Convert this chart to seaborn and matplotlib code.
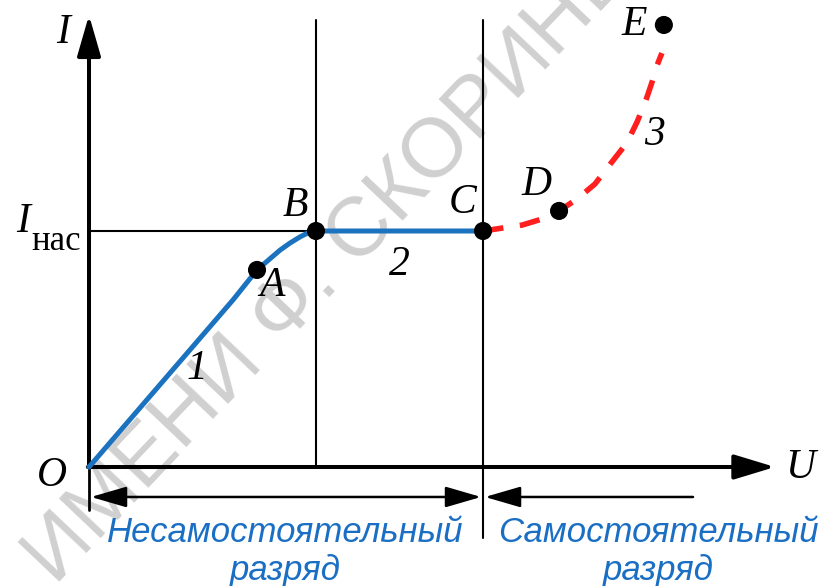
import matplotlib
matplotlib.use("Agg")
import matplotlib.pyplot as plt
import seaborn as sns

# Non-self-sustained discharge: O -> A -> B -> C (current saturates at I_sat)
u_blue = [0.0, 3.655, 4.264, 4.848, 5.102, 5.355, 5.558, 5.761, 10.0]
i_blue = [0.0, 0.708, 0.835, 0.919, 0.949, 0.975, 0.992, 1.0, 1.0]

# Self-sustained discharge: C -> D -> E
u_red = [10.0, 10.51, 10.99, 11.50, 11.93, 12.39, 12.84, 13.25, 13.65,
         13.91, 14.11, 14.29, 14.42, 14.54]
i_red = [1.0, 1.013, 1.025, 1.051, 1.085, 1.136, 1.199, 1.288, 1.373,
         1.462, 1.542, 1.631, 1.703, 1.754]

# Marked points on the characteristic
point_names = ["A", "B", "C", "D", "E"]
point_u = [4.264, 5.761, 10.0, 11.93, 14.59]
point_i = [0.835, 1.0, 1.0, 1.085, 1.873]

i_sat = 1.0
u_b = 5.761
u_c = 10.0

segment_names = ["1", "2", "3"]
region_names = ["Несамостоятельный\nразряд", "Самостоятельный\nразряд"]

BLUE = "#1b72bf"
RED = "#ff1f1f"
TEXT_BLUE = "#1a6fc4"

sns.set_theme(style="white")
plt.rcParams["font.family"] = ["Liberation Serif", "DejaVu Serif"]

fig = plt.figure(figsize=(8.23, 5.86), dpi=100)
ax = fig.add_axes([0, 0, 1, 1])
ax.set_xlim(-2.259, 18.629)
ax.set_ylim(-0.5042, 1.9788)
ax.set_axis_off()

# watermark
ax.text(6.25, 0.88, "ИМЕНИ Ф. СКОРИНЫ", rotation=46.5, rotation_mode="anchor",
        ha="center", va="center", fontsize=60, color="#d0d0d0",
        family="Liberation Sans", zorder=0)

# axes with arrows
ax.annotate("", xy=(0, 1.915), xytext=(0, 0),
            arrowprops=dict(arrowstyle="-|>,head_length=1.25,head_width=0.36",
                            mutation_scale=20, lw=2.9, color="black",
                            shrinkA=0, shrinkB=0), zorder=2)
ax.annotate("", xy=(17.41, 0), xytext=(-0.03, 0),
            arrowprops=dict(arrowstyle="-|>,head_length=1.25,head_width=0.38",
                            mutation_scale=20, lw=2.9, color="black",
                            shrinkA=0, shrinkB=0), zorder=2)
ax.plot([0, 0], [0, -0.182], color="black", lw=2.0, zorder=2)

# guide lines
ax.plot([u_b, u_b], [0, 1.894], color="black", lw=1.5, zorder=1)
ax.plot([u_c, u_c], [-0.301, 1.894], color="black", lw=1.5, zorder=1)
ax.plot([0, u_b], [i_sat, i_sat], color="black", lw=1.5, zorder=1)

# dimension arrows for the two discharge regions
ax.annotate("", xy=(0.05, -0.127), xytext=(u_c - 0.05, -0.127),
            arrowprops=dict(arrowstyle="<|-|>,head_length=1.1,head_width=0.32",
                            mutation_scale=20, lw=1.8, color="black",
                            shrinkA=0, shrinkB=0))
ax.annotate("", xy=(u_c + 0.05, -0.127), xytext=(15.33, -0.127),
            arrowprops=dict(arrowstyle="-|>,head_length=1.1,head_width=0.32",
                            mutation_scale=20, lw=1.8, color="black",
                            shrinkA=0, shrinkB=0))

# characteristic curves
sns.lineplot(x=u_blue, y=i_blue, sort=False, estimator=None, color=BLUE,
             lw=3.6, ax=ax, zorder=3)
sns.lineplot(x=u_red, y=i_red, sort=False, estimator=None, color=RED,
             lw=4.0, ax=ax, zorder=3)
red_line = ax.lines[-1]
red_line.set_dashes([3.7, 3.0])
red_line.set_dash_capstyle("butt")

sns.scatterplot(x=point_u, y=point_i, s=170, color="black", edgecolor="none",
                ax=ax, zorder=5)

lbl = dict(fontsize=30, style="italic", color="black", ha="center",
           va="center", zorder=6)
label_pos = {"A": (4.64, 0.767), "B": (5.23, 1.106), "C": (9.47, 1.119),
             "D": (11.35, 1.195), "E": (13.83, 1.873)}
for name in point_names:
    ax.text(*label_pos[name], name, **lbl)

seg_pos = [(2.74, 0.415), (7.89, 0.856), (14.34, 1.407)]
for name, (x, y) in zip(segment_names, seg_pos):
    ax.text(x, y, name, **lbl)

ax.text(-0.66, 1.839, "I", **lbl)
ax.text(-0.94, -0.038, "O", **lbl)
ax.text(18.05, -0.004, "U", **lbl)
ax.text(-1.675, 1.04, "I", **lbl)
ax.text(-1.47, 0.955, "нас", fontsize=25, color="black", ha="left",
        va="center", zorder=6)

region_pos = [(4.98, -0.358), (14.44, -0.358)]
for name, (x, y) in zip(region_names, region_pos):
    ax.text(x, y, name, fontsize=25, style="italic", color=TEXT_BLUE,
            family="Liberation Sans", ha="center", va="center",
            linespacing=1.2, zorder=6)

fig.savefig("out.png", dpi=100)
